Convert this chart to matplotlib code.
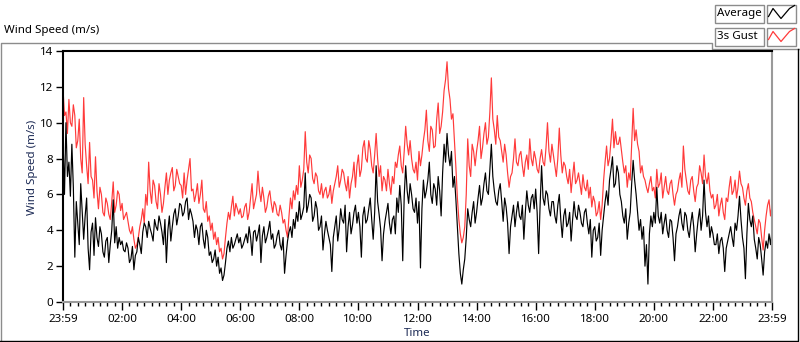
import numpy as np
import matplotlib.pyplot as plt
from matplotlib.patches import Rectangle
from matplotlib.ticker import MultipleLocator

plt.rcParams['font.family'] = ['Noto Sans', 'DejaVu Sans']

# ---- data: readings every 3 minutes from 23:59, one row = 2 hours ----
avg = [9.2, 6.0, 10.0, 7.0, 7.8, 5.9, 8.8, 6.4, 2.5, 5.6, 4.4, 3.2, 6.6, 5.0, 3.5, 4.8, 5.8, 3.0, 1.8, 3.9,
       4.4, 2.6, 4.7, 3.6, 3.1, 4.2, 3.8, 2.8, 2.5, 3.4, 3.6, 2.2, 3.2, 4.0, 5.7, 3.3, 4.2, 3.0, 3.6, 3.2,
       3.4, 2.9, 2.8, 3.3, 3.0, 2.2, 2.4, 3.1, 1.8, 2.6, 2.8, 3.6, 3.2, 2.7, 3.9, 4.4, 4.2, 3.6, 4.5, 4.1,
       3.8, 3.4, 4.6, 4.2, 4.0, 4.8, 4.4, 3.9, 3.2, 4.6, 2.2, 4.0, 4.8, 3.4, 4.2, 4.9, 5.2, 4.3, 4.8, 5.5,
       5.4, 4.8, 5.0, 5.6, 5.8, 4.6, 5.2, 4.9, 4.5, 3.6, 4.3, 4.0, 3.2, 4.2, 4.4, 3.5, 3.0, 4.0, 3.6, 2.6,
       2.8, 2.2, 2.4, 2.9, 2.0, 2.5, 1.6, 1.9, 1.2, 1.5, 2.2, 3.0, 3.4, 2.8, 3.6, 3.0, 3.2, 3.5, 3.8, 3.3,
       3.6, 3.0, 3.2, 3.5, 3.8, 3.3, 4.2, 3.6, 2.6, 3.9, 4.0, 3.4, 3.8, 4.3, 2.2, 3.7, 4.2, 3.3, 3.6, 4.0,
       4.5, 3.5, 3.8, 3.0, 3.2, 3.7, 4.0, 3.2, 2.9, 3.6, 1.6, 2.6, 3.4, 3.9, 4.2, 3.6, 4.6, 4.1, 5.0, 4.5,
       5.6, 4.6, 4.9, 5.3, 7.2, 5.0, 5.4, 6.0, 5.8, 4.5, 4.8, 5.6, 5.2, 4.0, 4.2, 4.8, 2.9, 3.8, 4.5, 4.0,
       3.6, 3.2, 1.7, 3.6, 4.2, 4.8, 3.4, 4.1, 5.2, 4.6, 4.4, 5.4, 2.8, 4.2, 5.0, 3.8, 4.3, 5.0, 5.4, 4.4,
       5.0, 4.2, 2.5, 4.8, 5.3, 4.4, 4.6, 5.2, 5.8, 4.6, 3.5, 5.0, 7.6, 5.6, 4.9, 4.1, 2.3, 3.8, 4.5, 5.0,
       5.5, 4.4, 3.8, 4.6, 4.8, 3.8, 5.8, 5.0, 6.5, 5.4, 2.3, 5.9, 7.6, 6.2, 5.5, 6.6, 6.0, 5.2, 5.0, 5.8,
       4.4, 5.6, 1.9, 5.2, 6.8, 5.8, 6.2, 6.8, 7.8, 6.0, 5.5, 6.6, 6.3, 5.4, 7.0, 6.2, 4.8, 7.2, 8.8, 7.8,
       9.4, 8.2, 7.6, 8.4, 6.4, 7.0, 5.7, 4.2, 2.7, 1.6, 1.0, 1.8, 2.4, 3.6, 5.2, 4.6, 4.2, 5.0, 5.6, 4.4,
       5.0, 5.8, 6.5, 5.4, 5.8, 6.6, 7.2, 6.2, 6.0, 7.4, 8.8, 7.0, 6.2, 5.6, 5.4, 6.2, 6.6, 5.6, 4.5, 5.8,
       5.3, 4.4, 2.7, 4.2, 4.8, 5.4, 4.2, 5.0, 5.6, 4.8, 4.6, 5.4, 3.5, 5.0, 6.2, 5.4, 5.0, 5.8, 6.0, 5.2,
       6.3, 5.0, 2.7, 5.4, 7.6, 5.8, 5.4, 6.2, 6.0, 5.2, 4.8, 5.6, 5.6, 4.8, 4.4, 5.4, 6.0, 4.6, 3.6, 4.8,
       5.2, 4.2, 4.4, 5.0, 3.4, 4.6, 5.6, 4.8, 4.6, 5.4, 5.0, 4.4, 4.2, 5.0, 5.2, 4.4, 3.8, 4.6, 2.5, 4.0,
       4.2, 3.4, 3.6, 4.4, 2.6, 4.0, 4.8, 5.6, 6.2, 5.4, 6.8, 7.4, 8.1, 6.4, 6.6, 7.6, 7.2, 6.0, 5.6, 4.8,
       4.4, 5.2, 3.5, 4.4, 5.0, 6.6, 7.9, 6.8, 6.0, 5.0, 4.0, 4.6, 3.5, 4.2, 2.0, 3.2, 1.0, 3.8, 4.8, 4.2,
       5.0, 4.4, 6.4, 4.8, 4.4, 5.0, 3.8, 4.4, 4.9, 4.0, 3.6, 4.6, 4.5, 3.6, 2.3, 3.8, 4.2, 4.8, 5.2, 4.4,
       4.0, 5.0, 4.8, 4.0, 3.6, 4.4, 5.0, 4.2, 2.8, 3.8, 4.6, 5.2, 4.0, 4.8, 6.8, 5.0, 4.2, 4.8, 3.6, 4.2,
       3.8, 3.2, 3.2, 3.8, 2.7, 3.4, 3.6, 3.0, 1.7, 3.0, 3.4, 3.8, 4.2, 3.6, 3.1, 4.4, 4.0, 4.8, 5.9, 4.6,
       3.6, 3.0, 1.3, 3.8, 5.5, 4.6, 4.2, 4.8, 3.5, 3.0, 2.4, 3.6, 3.2, 2.4, 1.5, 2.8, 3.4, 3.0, 3.8, 3.2,
       4.0]

gust = [11.9, 10.4, 10.6, 9.4, 11.3, 10.0, 9.8, 11.0, 10.4, 8.6, 9.0, 10.2, 8.0, 7.2, 11.4, 8.8, 7.6, 6.6, 8.9, 7.0,
        6.8, 5.8, 8.1, 6.2, 5.2, 6.4, 6.0, 5.0, 4.8, 5.8, 5.5, 4.9, 4.6, 5.6, 6.7, 5.0, 5.4, 6.2, 6.0, 5.1,
        5.5, 4.6, 4.8, 5.0, 4.5, 4.0, 3.8, 4.2, 3.5, 3.0, 3.2, 3.6, 4.2, 4.6, 5.2, 4.4, 6.0, 5.4, 7.8, 6.2,
        5.5, 6.8, 6.5, 5.6, 5.2, 6.6, 6.0, 5.0, 5.5, 6.4, 7.2, 6.0, 6.8, 7.2, 7.5, 6.2, 6.5, 7.4, 7.0, 6.6,
        6.5, 5.8, 7.2, 6.0, 6.8, 7.4, 8.0, 6.2, 6.3, 5.6, 6.0, 6.6, 5.5, 6.0, 6.8, 5.2, 5.0, 5.6, 4.5, 4.8,
        4.0, 4.4, 3.5, 3.9, 3.2, 3.6, 2.8, 3.0, 2.4, 2.7, 3.6, 4.4, 5.0, 4.6, 5.3, 5.9, 4.8, 5.5, 5.2, 4.9,
        5.2, 4.7, 4.8, 5.3, 5.5, 4.6, 5.0, 5.8, 6.6, 5.2, 5.6, 6.0, 7.3, 6.2, 5.6, 6.4, 5.8, 5.0, 5.3, 5.9,
        6.2, 5.5, 5.0, 5.6, 5.4, 4.9, 4.8, 5.4, 5.0, 4.4, 4.6, 4.0, 3.6, 4.8, 5.8, 5.2, 6.2, 5.7, 6.5, 6.0,
        7.6, 6.4, 6.8, 7.4, 9.5, 7.8, 7.2, 8.2, 8.0, 6.9, 6.6, 7.2, 7.0, 6.2, 6.0, 6.6, 5.8, 6.2, 6.4, 5.8,
        6.0, 6.5, 5.5, 6.2, 6.6, 7.0, 7.6, 6.4, 6.8, 7.4, 7.2, 6.6, 6.2, 7.0, 5.8, 6.6, 7.0, 7.8, 6.4, 7.6,
        8.2, 7.0, 7.4, 8.6, 9.0, 8.0, 7.8, 9.0, 8.5, 7.6, 7.2, 8.2, 9.4, 8.0, 7.0, 7.6, 6.2, 7.0, 6.8, 6.2,
        7.4, 6.6, 6.0, 7.0, 6.6, 7.8, 7.5, 8.2, 8.7, 7.6, 7.2, 8.4, 9.8, 8.8, 8.2, 9.0, 8.0, 7.4, 7.2, 7.8,
        6.8, 8.4, 7.6, 8.2, 9.0, 9.6, 10.7, 9.0, 8.4, 9.8, 9.6, 8.6, 8.7, 10.2, 11.1, 9.4, 9.8, 10.6, 11.8, 12.4,
        13.4, 11.9, 11.3, 10.2, 10.5, 9.0, 7.5, 5.8, 4.6, 3.8, 3.3, 3.6, 4.2, 6.0, 9.1, 7.6, 7.0, 8.8, 8.4, 7.6,
        8.4, 9.0, 9.8, 8.0, 8.6, 9.4, 10.0, 8.8, 9.2, 10.6, 12.5, 10.2, 9.6, 8.8, 10.4, 9.2, 9.0, 8.4, 7.8, 8.8,
        8.2, 7.2, 6.4, 7.0, 7.2, 8.0, 9.1, 7.8, 7.6, 8.2, 8.4, 7.6, 7.0, 7.8, 8.2, 7.4, 9.1, 8.0, 7.6, 8.4,
        8.0, 7.4, 7.2, 8.0, 8.5, 7.8, 7.6, 8.6, 10.0, 8.4, 7.8, 8.8, 8.2, 7.6, 7.0, 8.0, 9.7, 8.2, 7.2, 7.8,
        7.6, 7.0, 6.6, 7.4, 6.1, 7.0, 7.8, 6.6, 6.8, 7.2, 6.6, 6.0, 7.1, 6.4, 6.2, 6.8, 5.8, 6.4, 5.3, 5.9,
        5.6, 4.8, 5.0, 5.6, 4.6, 5.4, 6.8, 7.8, 8.7, 7.6, 8.0, 9.0, 10.2, 8.6, 9.5, 8.8, 8.8, 9.2, 8.5, 7.8,
        7.2, 7.6, 6.4, 7.2, 6.8, 8.8, 10.8, 9.0, 9.6, 8.8, 8.4, 7.2, 7.6, 7.0, 6.8, 6.4, 6.1, 6.6, 7.0, 6.2,
        6.4, 5.8, 7.4, 6.4, 6.6, 7.2, 5.8, 6.4, 7.0, 6.2, 6.0, 6.6, 6.8, 6.0, 5.4, 6.0, 6.2, 6.8, 7.2, 6.4,
        8.7, 7.4, 6.8, 6.2, 6.0, 6.8, 7.0, 6.2, 5.6, 6.4, 6.6, 7.6, 7.2, 6.6, 8.2, 7.0, 6.6, 7.2, 6.2, 5.8,
        6.0, 5.2, 5.4, 6.0, 4.8, 5.4, 5.8, 5.0, 4.6, 5.8, 5.6, 6.4, 7.0, 6.0, 6.2, 6.8, 5.8, 6.4, 7.3, 6.6,
        6.4, 5.8, 5.4, 6.2, 6.6, 5.8, 5.6, 5.0, 4.6, 4.2, 3.8, 4.6, 4.4, 3.6, 2.9, 4.0, 4.8, 5.4, 5.7, 4.8,
        5.4]

hours_avg = np.arange(len(avg)) / 20
hours_gust = np.arange(len(gust)) / 20

tick_hours = np.arange(0, 25, 2)
tick_labels = ['23:59', '02:00', '04:00', '06:00', '08:00', '10:00', '12:00',
               '14:00', '16:00', '18:00', '20:00', '22:00', '23:59']

W, H = 800, 342
fig = plt.figure(figsize=(W / 100, H / 100), dpi=100)

# pixel-coordinate overlay for panel frame, caption and legend
bg = fig.add_axes([0, 0, 1, 1])
bg.set_xlim(0, W)
bg.set_ylim(H, 0)
bg.axis('off')
bg.plot([0.5, 0.5, 711.5, 711.5, 800], [340, 42.5, 42.5, 48.5, 48.5], color='#8c8c8c', lw=1)
bg.plot([0, 797.5, 797.5], [340.5, 340.5, 48.5], color='black', lw=1)
bg.text(4, 31, 'Wind Speed (m/s)', fontsize=8.3, va='center', ha='left', color='black')

# legend
for i, (name, col) in enumerate([('Average', 'black'), ('3s Gust', '#ff3a3a')]):
    y0 = 4.5 + i * 23
    bg.add_patch(Rectangle((714.5, y0), 49, 18, fill=False, ec='#8c8c8c', lw=1))
    bg.add_patch(Rectangle((766.5, y0), 29, 18, fill=False, ec='#8c8c8c', lw=1))
    bg.text(717, y0 + 9, name, fontsize=8.3, va='center', ha='left', color='black')
    bg.plot([768.5, 773, 781, 789.5, 794.5], [y0 + 12, y0 + 4, y0 + 14, y0 + 4, y0 + 1],
            color=col, lw=0.9)

# main plot
ax = fig.add_axes([63 / W, 40 / H, (772 - 63) / W, (302 - 51) / H])
ax.plot(hours_gust, gust, color='#ff3a3a', lw=0.85)
ax.plot(hours_avg, avg, color='black', lw=0.85)

ax.set_xlim(0, 24)
ax.set_ylim(0, 14)
ax.set_yticks(np.arange(0, 15, 2))
ax.set_xticks(tick_hours)
ax.set_xticklabels(tick_labels)
ax.xaxis.set_minor_locator(MultipleLocator(0.25))
ax.tick_params(axis='both', which='major', direction='out', length=5, width=1,
               labelsize=8.3, colors='black')
ax.tick_params(axis='x', which='major', length=6, pad=3)
ax.tick_params(axis='x', which='minor', direction='out', length=3, width=1)
ax.tick_params(axis='y', pad=2)

for s in ['top', 'left']:
    ax.spines[s].set_color('black')
    ax.spines[s].set_linewidth(1.5)
for s in ['right', 'bottom']:
    ax.spines[s].set_color('#9a9a9a')
    ax.spines[s].set_linewidth(1.5)

fig.text(32 / W, 1 - 167 / H, 'Wind Speed (m/s)', rotation=90, fontsize=8.3,
         ha='center', va='center', color='#1c2a55')
fig.text(417 / W, 1 - 334 / H, 'Time', fontsize=8.3, ha='center', va='center', color='#1c2a55')

fig.savefig('out.png', dpi=100)
